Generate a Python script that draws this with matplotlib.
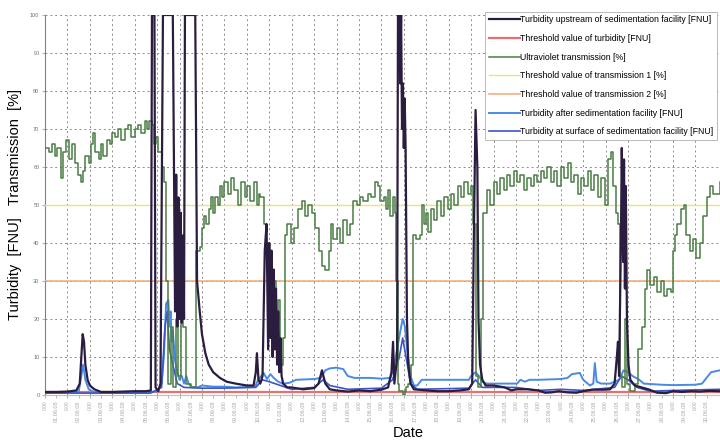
import numpy as np
import matplotlib
matplotlib.use("Agg")
import matplotlib.pyplot as plt

plt.rcParams['font.family'] = ['Liberation Sans Narrow', 'Liberation Sans', 'DejaVu Sans']

# time axis in days from start
uv_x = [0.0, 0.2, 0.3, 0.45, 0.55, 0.7, 0.8, 0.95, 1.05, 1.2, 1.35, 1.45, 1.6, 1.7, 1.8, 1.95,
        2.05, 2.15, 2.25, 2.4, 2.5, 2.6, 2.75, 2.9, 3.0, 3.1, 3.25, 3.4, 3.55, 3.7, 3.85, 4.0,
        4.15, 4.3, 4.45, 4.55, 4.65, 4.75, 4.85, 4.95, 5.05, 5.2, 5.3, 5.4, 5.5, 5.6, 5.7, 5.85,
        5.95, 6.05, 6.15, 6.3, 6.5, 6.75, 6.9, 7.0, 7.1, 7.2, 7.3, 7.4, 7.5, 7.6, 7.7, 7.8,
        7.9, 8.0, 8.15, 8.3, 8.45, 8.6, 8.75, 8.9, 9.0, 9.15, 9.3, 9.45, 9.55, 9.6, 9.75, 9.85,
        9.95, 10.05, 10.1, 10.2, 10.3, 10.4, 10.5, 10.6, 10.7, 10.8, 10.95, 11.1, 11.3, 11.45, 11.6, 11.75,
        11.9, 12.05, 12.2, 12.35, 12.5, 12.65, 12.75, 12.85, 13.0, 13.15, 13.3, 13.45, 13.6, 13.75, 13.9, 14.05,
        14.2, 14.4, 14.55, 14.7, 14.85, 14.95, 15.1, 15.2, 15.3, 15.4, 15.5, 15.6, 15.65, 15.72, 15.8, 15.95,
        16.05, 16.1, 16.2, 16.3, 16.4, 16.55, 16.7, 16.8, 16.9, 17.0, 17.1, 17.2, 17.35, 17.5, 17.65, 17.8,
        17.95, 18.1, 18.25, 18.4, 18.55, 18.7, 18.85, 19.0, 19.1, 19.2, 19.3, 19.45, 19.55, 19.7, 19.85, 20.0,
        20.15, 20.3, 20.45, 20.6, 20.75, 20.9, 21.05, 21.2, 21.35, 21.5, 21.65, 21.8, 21.95, 22.1, 22.25, 22.4,
        22.55, 22.7, 22.85, 23.0, 23.15, 23.3, 23.45, 23.6, 23.75, 23.9, 24.05, 24.2, 24.35, 24.5, 24.65, 24.8,
        24.95, 25.1, 25.25, 25.35, 25.45, 25.55, 25.65, 25.75, 25.85, 25.95, 26.1, 26.3, 26.45, 26.6, 26.75, 26.85,
        27.0, 27.15, 27.3, 27.45, 27.6, 27.75, 27.9, 28.0, 28.1, 28.2, 28.35, 28.5, 28.6, 28.75, 28.9, 29.05,
        29.2, 29.35, 29.5, 29.65, 29.8, 30.1]
uv_y = [65, 64, 66, 63, 65, 57, 64, 67, 62, 66, 61, 58, 56, 59, 63, 61,
        66, 69, 64, 62, 66, 63, 67, 66, 69, 68, 70, 67, 70, 71, 68, 70,
        71, 69, 72, 70, 72, 71, 66, 68, 64, 60, 56, 30, 3, 18, 2, 20,
        5, 40, 18, 3, 2, 38, 39, 44, 47, 45, 49, 52, 48, 52, 50, 55,
        52, 56, 53, 57, 54, 50, 56, 52, 55, 51, 56, 50, 53, 52, 45, 40,
        30, 38, 22, 30, 12, 25, 8, 15, 42, 45, 40, 44, 49, 51, 47, 50,
        48, 44, 38, 34, 33, 38, 45, 41, 44, 40, 46, 42, 45, 51, 50, 52,
        51, 53, 52, 56, 55, 51, 52, 49, 54, 47, 52, 48, 30, 3, 1, 0,
        1, 2, 3, 8, 42, 41, 42, 50, 45, 48, 43, 49, 46, 51, 47, 52,
        49, 53, 50, 55, 52, 56, 53, 55, 45, 5, 2, 20, 48, 54, 50, 56,
        53, 57, 54, 58, 55, 59, 56, 58, 54, 57, 55, 58, 56, 59, 57, 60,
        56, 59, 55, 60, 57, 61, 56, 58, 53, 57, 55, 59, 54, 58, 52, 57,
        50, 62, 64, 55, 48, 45, 5, 2, 20, 3, 1, 3, 12, 18, 28, 33,
        29, 31, 27, 30, 26, 28, 27, 38, 42, 45, 49, 50, 42, 38, 41, 36,
        40, 47, 52, 55, 53, 56]

up_x = [0.0, 0.5, 1.0, 1.4, 1.55, 1.62, 1.68, 1.74, 1.8, 1.9, 2.0, 2.2, 2.5, 3.0, 3.5, 4.0,
        4.5, 4.72, 4.77, 4.88, 4.93, 5.05, 5.15, 5.26, 5.7, 5.75, 5.8, 5.85, 5.9, 5.95, 6.0, 6.05,
        6.1, 6.15, 6.2, 6.24, 6.7, 6.78, 6.9, 7.0, 7.15, 7.3, 7.5, 7.8, 8.1, 8.5, 9.0, 9.3,
        9.4, 9.45, 9.52, 9.6, 9.7, 9.8, 9.88, 9.95, 10.0, 10.05, 10.1, 10.15, 10.2, 10.25, 10.3, 10.35,
        10.4, 10.45, 10.5, 10.55, 10.62, 10.8, 11.0, 11.5, 12.0, 12.2, 12.35, 12.5, 12.7, 13.0, 13.5, 14.0,
        14.5, 15.0, 15.3, 15.45, 15.52, 15.58, 15.7, 15.74, 15.8, 15.84, 15.88, 15.92, 15.96, 16.0, 16.04, 16.08,
        16.14, 16.2, 16.3, 16.45, 17.0, 17.5, 18.0, 18.5, 18.9, 19.05, 19.12, 19.2, 19.28, 19.33, 19.4, 19.5,
        19.65, 20.0, 20.5, 20.8, 21.0, 21.5, 22.0, 22.3, 22.6, 22.9, 23.3, 23.7, 24.0, 24.4, 24.9, 25.2,
        25.4, 25.5, 25.55, 25.6, 25.68, 25.72, 25.78, 25.82, 25.86, 25.9, 25.95, 26.02, 26.1, 26.3, 26.6, 26.9,
        27.3, 27.7, 28.0, 28.4, 28.8, 29.2, 29.6, 30.1]
up_y = [0.8, 0.8, 0.9, 1.2, 3, 10, 16, 14, 8, 4, 2.5, 1.5, 0.8, 0.8, 0.9, 1.0,
        1.0, 1.2, 100, 100, 2, 1, 3, 100, 100, 60, 22, 58, 18, 52, 20, 48,
        19, 42, 20, 100, 100, 30, 22, 16, 11, 8, 6, 4.5, 3.5, 3, 2.5, 2.5,
        6, 11, 4, 3, 5, 38, 45, 12, 40, 15, 38, 10, 33, 12, 28, 8,
        22, 6, 15, 5, 3, 2, 2, 1.5, 1.8, 3, 6.5, 3, 1.5, 1.2, 0.9, 1.2,
        1.0, 1.4, 2, 6, 14, 3, 10, 100, 100, 82, 100, 70, 82, 65, 78, 65,
        20, 8, 3, 1.5, 1.2, 1.0, 1.0, 1.2, 1.5, 3, 40, 75, 60, 20, 8, 4,
        2.5, 2.5, 2, 1.2, 1.5, 1.5, 1.2, 0.6, 0.7, 1.0, 0.7, 0.6, 1.0, 1.4, 1.4, 1.5,
        3, 10, 14, 5, 40, 65, 35, 62, 28, 55, 20, 8, 4, 2.5, 2, 1.5,
        0.6, 0.5, 1.0, 0.8, 1.0, 0.9, 1.1, 1.0]

after_x = [0.0, 1.5, 1.62, 1.7, 1.8, 1.95, 2.2, 4.7, 5.0, 5.2, 5.3, 5.4, 5.5, 5.55, 5.6, 5.65,
           5.7, 5.8, 5.9, 6.0, 6.1, 6.2, 6.3, 6.4, 6.55, 6.8, 7.0, 7.5, 8.0, 8.5, 9.0, 9.36,
           9.5, 9.6, 9.75, 9.9, 10.05, 10.2, 10.4, 10.6, 10.9, 11.2, 12.0, 12.3, 12.5, 12.7, 13.0, 13.3,
           13.5, 13.8, 14.5, 15.0, 15.4, 15.5, 15.7, 15.85, 15.95, 16.05, 16.15, 16.3, 16.45, 16.6, 16.8, 18.0,
           18.9, 19.0, 19.2, 19.35, 19.5, 19.7, 20.5, 21.05, 21.2, 21.4, 21.6, 22.0, 23.0, 23.3, 23.5, 23.85,
           24.0, 24.3, 24.45, 24.52, 24.6, 24.8, 25.2, 25.6, 25.8, 26.0, 26.2, 26.5, 26.7, 27.5, 28.0, 29.0,
           29.3, 29.5, 29.7, 30.1]
after_y = [0.6, 0.8, 5, 8, 4, 1.5, 0.7, 0.7, 1.0, 3, 10, 24, 25, 18, 22, 14,
           17, 9, 6, 4, 5, 3, 5, 3, 2, 2, 2.5, 2.2, 2.2, 2.0, 2.1, 2.1,
           4, 4.7, 5.8, 4.2, 5.5, 4.5, 3.5, 3, 3.2, 4, 4.2, 4.5, 6.5, 7, 7.2, 6.8,
           5, 4.5, 4.5, 4.3, 4.5, 6, 12, 17, 20, 18, 12, 5, 2.5, 2.5, 4, 4,
           4, 5, 6, 5, 3.5, 3, 3, 3, 4, 3.5, 4, 4, 4.2, 4.5, 5.5, 5.8,
           4, 2.5, 3, 8.4, 3.5, 3, 3, 4, 6.5, 6, 5, 4, 3, 2.7, 2.6, 2.7,
           3, 4.5, 6, 6.5]

surf_x = [0.0, 4.7, 5.2, 5.35, 5.45, 5.55, 5.7, 5.9, 6.2, 7.0, 8.0, 9.4, 9.7, 10.0, 10.5, 11.0,
          12.0, 12.4, 12.7, 13.5, 15.0, 15.5, 15.8, 15.95, 16.1, 16.3, 16.6, 18.9, 19.2, 19.5, 21.0, 22.0,
          23.0, 24.0, 25.4, 25.7, 26.0, 26.4, 27.0, 28.0, 30.1]
surf_y = [0.5, 0.5, 2, 18, 22, 12, 8, 3, 2, 1.8, 1.8, 2, 4, 3.5, 2.5, 1.5,
          2, 4, 2.5, 1.5, 1.8, 4, 10, 15, 10, 3, 1.5, 1.8, 4, 2, 2, 1.2,
          1.5, 1.2, 2, 5, 4, 2, 1, 1.2, 1.5]

span = [0.0, 30.1]
thr_turbidity = [0.7, 0.7]
thr_trans1 = [50, 50]
thr_trans2 = [30, 30]

y_ticks = [0, 10, 20, 30, 40, 50, 60, 70, 80, 90, 100]
date_labels = ["01.06.08", "02.06.08", "03.06.08", "04.06.08", "05.06.08", "06.06.08",
               "07.06.08", "08.06.08", "09.06.08", "10.06.08", "11.06.08", "12.06.08",
               "13.06.08", "14.06.08", "15.06.08", "16.06.08", "17.06.08", "18.06.08",
               "19.06.08", "20.06.08", "21.06.08", "22.06.08", "23.06.08", "24.06.08",
               "25.06.08", "26.06.08", "27.06.08", "28.06.08", "29.06.08", "30.06.08"]

fig = plt.figure(figsize=(7.2, 4.45), dpi=100)
ax = fig.add_axes([45 / 720, 50 / 445, 675 / 720, 380 / 445])

ax.plot(up_x, up_y, color='#2b1d40', lw=1.6, zorder=6,
        label='Turbidity upstream of sedimentation facility [FNU]')
ax.plot(span, thr_turbidity, color='#e87070', lw=1.6, zorder=3,
        label='Threshold value of turbidity [FNU]')
ax.plot(uv_x, uv_y, color='#4a7d44', lw=1.1, drawstyle='steps-post', zorder=5,
        label='Ultraviolet transmission [%]')
ax.plot(span, thr_trans1, color='#e6e67a', lw=1.0, zorder=3,
        label='Threshold value of transmission 1 [%]')
ax.plot(span, thr_trans2, color='#f2a878', lw=1.1, zorder=3,
        label='Threshold value of transmission 2 [%]')
ax.plot(after_x, after_y, color='#4a8ae6', lw=1.4, zorder=4,
        label='Turbidity after sedimentation facility [FNU]')
ax.plot(surf_x, surf_y, color='#3a55c8', lw=1.2, zorder=4,
        label='Turbidity at surface of sedimentation facility [FNU]')

ax.set_xlim(0, 30.1)
ax.set_ylim(0, 100)

ax.set_yticks(y_ticks)
ax.set_yticklabels([str(v) for v in y_ticks], fontsize=4, color='#707070')
ax.set_xticks(np.arange(0, 30))
ax.set_xticklabels(['0:00'] * 30, fontsize=3.5, color='#a8a8a8', rotation=90)
ax.set_xticks(np.arange(0, 30) + 0.5, minor=True)
ax.set_xticklabels(date_labels, minor=True, fontsize=4, color='#a8a8a8', rotation=90)
ax.tick_params(axis='both', which='both', length=2, color='#b0b0b0', pad=2)

ax.grid(True, which='major', color='#8c8c8c', linestyle=(0, (2, 3)), lw=0.7)
for s in ['top', 'right']:
    ax.spines[s].set_visible(False)
ax.spines['left'].set_color('#808080')
ax.spines['bottom'].set_color('#c0c0c0')

ax.set_ylabel('Turbidity  [FNU]   Transmission  [%]', fontsize=10.5,
              family=['Liberation Sans', 'DejaVu Sans'])
ax.yaxis.set_label_coords(-0.034, 0.5)
fig.text(408 / 720, 1 - 433 / 445, 'Date', fontsize=10.5, ha='center', va='center',
         family=['Liberation Sans', 'DejaVu Sans'])

leg = ax.legend(loc='upper right', bbox_to_anchor=(717 / 720, 1 - 12 / 445),
                bbox_transform=fig.transFigure, fontsize=6.3, frameon=True, fancybox=False,
                edgecolor='#b0b0b0', framealpha=1, borderpad=0.4, handlelength=3.5,
                handletextpad=0.1, labelspacing=1.1, borderaxespad=0)
leg.get_frame().set_linewidth(0.6)
leg.set_zorder(10)

fig.savefig('out.png', dpi=100)
